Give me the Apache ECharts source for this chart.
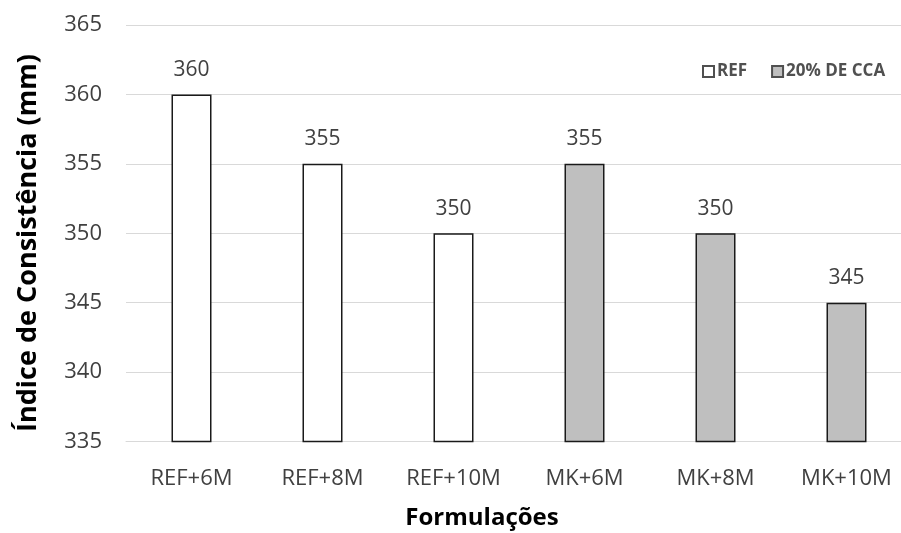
<!DOCTYPE html>
<html>
<head>
<meta charset="utf-8">
<script src="https://cdn.jsdelivr.net/npm/echarts@6/dist/echarts.min.js"></script>
<style>
  html, body { margin: 0; padding: 0; background: #ffffff; }
  #chart { width: 901px; height: 533px; }
</style>
</head>
<body>
<div id="chart"></div>
<script>
// Consistency index per formulation
const categories = ['REF+6M', 'REF+8M', 'REF+10M', 'MK+6M', 'MK+8M', 'MK+10M'];
const refValues = [360, 355, 350, '-', '-', '-'];
const ccaValues = ['-', '-', '-', 355, 350, 345];
const seriesNames = ['REF', '20% DE CCA'];
const yTicks = { min: 335, max: 365, interval: 5 };

const FONT = '"Open Sans", "Noto Sans", sans-serif';
const chart = echarts.init(document.getElementById('chart'), null, { renderer: 'canvas' });

const labelStyle = {
  show: true,
  position: 'top',
  distance: 14,
  color: '#404040',
  fontFamily: FONT,
  fontSize: 21
};

chart.setOption({
  animation: false,
  backgroundColor: '#ffffff',
  grid: {
    left: 126, top: 25, width: 786, height: 416.5,
    containLabel: false,
    outerBoundsMode: 'none'
  },
  legend: {
    left: 697,
    top: 58,
    itemWidth: 11,
    itemHeight: 11,
    itemGap: 24,
    textStyle: { fontFamily: FONT, fontSize: 17, fontWeight: 'bold', color: '#505050', padding: [0, 0, 0, -2] },
    data: [
      { name: seriesNames[0], icon: 'rect', itemStyle: { color: '#ffffff', borderColor: '#505050', borderWidth: 2 } },
      { name: seriesNames[1], icon: 'rect', itemStyle: { color: '#bfbfbf', borderColor: '#505050', borderWidth: 2 } }
    ]
  },
  xAxis: {
    type: 'category',
    data: categories,
    axisLine: { show: true, lineStyle: { color: '#d9d9d9', width: 1 } },
    axisTick: { show: false },
    axisLabel: { color: '#404040', fontFamily: FONT, fontSize: 22, margin: 26 }
  },
  yAxis: {
    type: 'value',
    min: yTicks.min,
    max: yTicks.max,
    interval: yTicks.interval,
    axisLine: { show: false },
    axisTick: { show: false },
    splitLine: { lineStyle: { color: '#d9d9d9', width: 1 } },
    axisLabel: { color: '#404040', fontFamily: FONT, fontSize: 22, margin: 24 }
  },
  series: [
    {
      name: seriesNames[0],
      type: 'bar',
      data: refValues,
      barWidth: 40,
      barGap: '-100%',
      itemStyle: { color: '#ffffff', borderColor: '#1a1a1a', borderWidth: 1.5 },
      label: labelStyle
    },
    {
      name: seriesNames[1],
      type: 'bar',
      data: ccaValues,
      barWidth: 40,
      itemStyle: { color: '#bfbfbf', borderColor: '#1a1a1a', borderWidth: 1.5 },
      label: labelStyle
    }
  ],
  graphic: [
    {
      type: 'text',
      x: 482,
      y: 518,
      style: {
        text: 'Formulações', fontFamily: FONT, fontSize: 24, fontWeight: 'bold', fill: '#000000',
        align: 'center', verticalAlign: 'middle'
      }
    },
    {
      type: 'text',
      x: 28,
      y: 243,
      rotation: Math.PI / 2,
      style: {
        text: 'Índice de Consistência (mm)',
        fontFamily: FONT, fontSize: 27, fontWeight: 'bold', fill: '#000000',
        align: 'center', verticalAlign: 'middle'
      }
    }
  ]
});
</script>
</body>
</html>
